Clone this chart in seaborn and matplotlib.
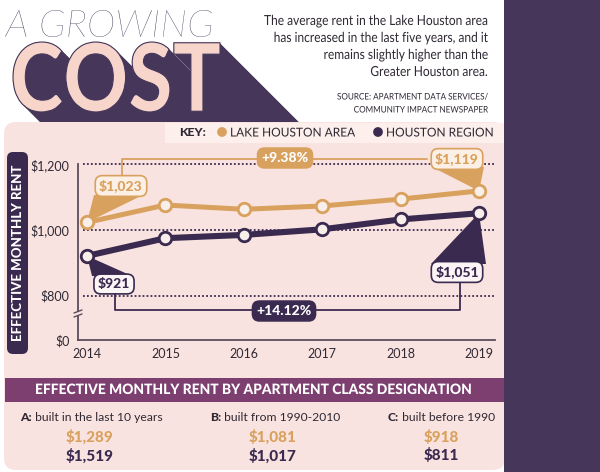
import numpy as np
import pandas as pd
import seaborn as sns
import matplotlib.pyplot as plt
import matplotlib.patheffects as pe
from matplotlib.patches import Rectangle, FancyBboxPatch, Polygon
from matplotlib.transforms import Affine2D, Bbox
from matplotlib.colors import to_rgba
from matplotlib.textpath import TextPath
from matplotlib.font_manager import FontProperties

# chart data
years = [2014, 2015, 2016, 2017, 2018, 2019]
lake_rent = [1023, 1076, 1063, 1073, 1094, 1119]
houston_rent = [921, 975, 985, 1002, 1032, 1051]
series_names = ['LAKE HOUSTON AREA', 'HOUSTON REGION']
rent_ticks = [800, 1000, 1200]

# apartment class table
class_names = ['A', 'B', 'C']
class_desc = ['built in the last 10 years', 'built from 1990-2010', 'built before 1990']
class_lake = [1289, 1081, 918]
class_houston = [1519, 1017, 811]

ORANGE = '#d9a15e'
PURPLE = '#3b2a50'
DEEP = '#45365a'
BAND = '#7c3f6f'
PANEL = '#f9e3e0'
KEYBG = '#fcefec'
PINK = '#f7d5cb'
TEXT = '#2f2833'
W, H = 600, 472
ZERO = 665  # where "$0" sits on the broken axis


class Squash(pe.AbstractPathEffect):
    """squeeze a text horizontally around x0 (display px)"""
    def __init__(self, x0, sx, face=None, edge=None, lw=0):
        super().__init__()
        self.x0, self.sx, self.face, self.edge, self.lw = x0, sx, face, edge, lw

    def draw_path(self, renderer, gc, tpath, affine, rgbFace=None):
        sq = Affine2D().translate(-self.x0, 0).scale(self.sx, 1).translate(self.x0, 0)
        gc0 = renderer.new_gc()
        gc0.copy_properties(gc)
        if self.edge is not None:
            gc0.set_foreground(self.edge)
        gc0.set_linewidth(self.lw)
        face = to_rgba(self.face) if self.face is not None else rgbFace
        renderer.draw_path(gc0, tpath, affine + sq, face)
        gc0.restore()


class Extrude(pe.AbstractPathEffect):
    """diagonal block shadow under the big title"""
    def __init__(self, x0, sx, depth, color, clip_y):
        super().__init__()
        self.x0, self.sx, self.depth, self.color, self.clip_y = x0, sx, depth, color, clip_y

    def draw_path(self, renderer, gc, tpath, affine, rgbFace=None):
        sq = Affine2D().translate(-self.x0, 0).scale(self.sx, 1).translate(self.x0, 0)
        gc0 = renderer.new_gc()
        gc0.copy_properties(gc)
        gc0.set_linewidth(0)
        gc0.set_clip_rectangle(Bbox.from_extents(0, self.clip_y, W, H))
        for t in np.arange(0, self.depth, 1.0):
            renderer.draw_path(gc0, tpath, affine + sq + Affine2D().translate(t, -t),
                               to_rgba(self.color))
        gc0.restore()


def fit_box(s, fp, x0, x1, top, bottom):
    # font size + squeeze so the ink of s fills the given pixel box
    ext = TextPath((0, 0), s, size=100, prop=fp).get_extents()
    em = (bottom - top) / (ext.height / 100)
    sx = (x1 - x0) / (ext.width * em / 100)
    return em * 72 / 100, x0 - ext.x0 * em / 100, bottom + ext.y0 * em / 100, sx


sns.set_theme(style='white')
plt.rcParams['font.family'] = ['Lato', 'DejaVu Sans']

fig = plt.figure(figsize=(W / 100, H / 100), dpi=100)
fig.patch.set_facecolor('white')

# background layer in pixel coords (y down)
bg = fig.add_axes([0, 0, 1, 1], zorder=0)
bg.set_xlim(0, W)
bg.set_ylim(H, 0)
bg.axis('off')

bg.add_patch(FancyBboxPatch((4, 122), 501, 348, boxstyle='round,pad=0,rounding_size=12',
                            fc=PANEL, ec='none'))
bg.add_patch(Rectangle((165, 123), 340, 20, fc=KEYBG, ec='none'))
bg.add_patch(Rectangle((5, 378), 500, 24, fc=BAND, ec='none'))
bg.add_patch(FancyBboxPatch((7, 152), 21, 202, boxstyle='round,pad=0,rounding_size=6',
                            fc=PURPLE, ec='none'))
bg.add_patch(Rectangle((504, 0), 96, H, fc=DEEP, ec='none'))

# title
fp_a = FontProperties(family='Lato', weight='light', style='italic')
fs, tx, ty, sx_a = fit_box('A GROWING', fp_a, 5, 212, 10, 37)
ag = bg.text(tx, ty, 'A GROWING', fontproperties=fp_a, color='#3d3150', ha='left', va='baseline')
ag.set_fontsize(fs)
ag.set_path_effects([Squash(5, sx_a)])

fp_c = FontProperties(family='Lato', weight='black')
fs, tx, ty, sx_c = fit_box('COST', fp_c, 13, 220, 42, 112)
cost = bg.text(tx, ty, 'COST', fontproperties=fp_c, ha='left', va='baseline', color=PINK)
cost.set_fontsize(fs)
cost.set_path_effects([Extrude(13, sx_c, 82, DEEP, H - 122),
                       Squash(13, sx_c, face=PINK, edge=DEEP, lw=0.8)])

desc = ['The average rent in the Lake Houston area',
        'has increased in the last five years, and it',
        'remains slightly higher than the',
        'Greater Houston area.']
desc_txt = [bg.text(488, 21 + 17 * i, s, fontsize=10, color=TEXT, ha='right', va='center')
            for i, s in enumerate(desc)]
src = ['SOURCE: APARTMENT DATA SERVICES/', 'COMMUNITY IMPACT NEWSPAPER']
src_txt = [bg.text(488, 97 + 13 * i, s, fontsize=6.5, color=TEXT, ha='right', va='center')
           for i, s in enumerate(src)]

# main chart
ax = fig.add_axes([78 / W, (H - 340) / H, 417 / W, 190 / H], zorder=2)
ax.patch.set_alpha(0)
df = pd.DataFrame({'year': years * 2,
                   'rent': lake_rent + houston_rent,
                   'area': [series_names[0]] * len(years) + [series_names[1]] * len(years)})
for name, color, lw in [(series_names[0], ORANGE, 3.6), (series_names[1], PURPLE, 4.4)]:
    sns.lineplot(data=df[df['area'] == name], x='year', y='rent', color=color, lw=lw,
                 marker='o', markersize=9, markerfacecolor='#f8eeea',
                 markeredgecolor=color, markeredgewidth=2, ax=ax, legend=False, zorder=3)

ax.set_xlim(2013.885, 2019.204)
ax.set_ylim(ZERO, 1243.5)
ax.set_xticks(years)
ax.set_yticks([ZERO] + rent_ticks, labels=['$0'] + [f'${v:,}' for v in rent_ticks])
ax.tick_params(length=0, labelsize=9, colors=TEXT)
ax.tick_params(axis='x', pad=6)
ax.tick_params(axis='y', pad=6)
ax.set_xlabel('')
ax.set_ylabel('')
for v in rent_ticks:
    ax.axhline(v, xmin=5 / 417, xmax=1, color=PURPLE, lw=1.3, ls=(0, (1, 1.2)), zorder=1)
sns.despine(ax=ax)
for side in ['left', 'bottom']:
    ax.spines[side].set_color('#5c4c5c')
    ax.spines[side].set_linewidth(1.3)
ax.spines['left'].set_bounds(ZERO, 1200)

# foreground layer
fg = fig.add_axes([0, 0, 1, 1], zorder=3)
fg.set_xlim(0, W)
fg.set_ylim(H, 0)
fg.axis('off')


def tip(x, v):
    dx, dy = ax.transData.transform((x, v))
    return dx, H - dy


# axis break marks
fg.plot([76, 80], [313, 313], color=PANEL, lw=2.5)
for y0 in (311, 315):
    fg.plot([74, 82], [y0 + 2, y0 - 1], color='#5c4c5c', lw=1)

# y label
bg.text(18, 253, 'EFFECTIVE MONTHLY RENT', rotation=90, fontsize=9.5, fontweight='black',
        color='white', ha='center', va='center')

# callout triangles (under the lines)
tri = [((years[0], lake_rent[0]), [(94, 195), (143, 195)], ORANGE),
       ((years[-1], lake_rent[-1]), [(432, 167), (484, 167)], ORANGE),
       ((years[0], houston_rent[0]), [(92, 276), (132, 276)], PURPLE),
       ((years[-1], houston_rent[-1]), [(431, 264), (486, 264)], PURPLE)]
for pt, base, color in tri:
    ax.add_patch(Polygon([tip(*pt)] + base, closed=True, fc=color, ec='none',
                         transform=fg.transData, clip_on=False, zorder=2))

# brackets
fg.plot([122, 122, 427], [177, 159, 159], color=ORANGE, lw=1.3)
fg.plot([115, 115, 460, 460], [292, 310, 310, 281], color=PURPLE, lw=1.3)

lake_pct = (lake_rent[-1] - lake_rent[0]) / lake_rent[0] * 100
hou_pct = (houston_rent[-1] - houston_rent[0]) / houston_rent[0] * 100


def label(x, y, s, fc, ec, tc):
    fg.text(x, y, s, ha='center', va='center', fontsize=10, fontweight='black', color=tc,
            bbox=dict(boxstyle='round,pad=0.28,rounding_size=0.5', fc=fc, ec=ec, lw=1.2))


label(121, 186, f'${lake_rent[0]:,}', '#fcefe6', ORANGE, ORANGE)
label(457, 159, f'${lake_rent[-1]:,}', '#fcefe6', ORANGE, ORANGE)
label(285, 158, f'+{lake_pct:.2f}%', ORANGE, ORANGE, 'white')
label(114, 284, f'${houston_rent[0]:,}', '#fbf5f5', PURPLE, PURPLE)
label(457, 272, f'${houston_rent[-1]:,}', '#fbf5f5', PURPLE, PURPLE)
label(284, 311, f'+{hou_pct:.2f}%', PURPLE, PURPLE, 'white')

# key
fg.text(179, 133, 'KEY:', fontsize=8.8, fontweight='black', color=TEXT, ha='left', va='center')
fg.scatter([222, 378], [132, 132], s=36, color=[ORANGE, PURPLE], zorder=4)
key_txt = [fg.text(230, 133, series_names[0], fontsize=8.8, color=TEXT, ha='left', va='center'),
           fg.text(386, 133, series_names[1], fontsize=8.8, color=TEXT, ha='left', va='center')]

# bottom table
band_txt = fg.text(35, 390, 'EFFECTIVE MONTHLY RENT BY APARTMENT CLASS DESIGNATION',
                   fontsize=10.3, fontweight='black', color='white', ha='left', va='center')
col_left = [20, 210, 388]
col_mid = [90, 273, 441]
for i, name in enumerate(class_names):
    t = fg.text(col_left[i], 421, f'{name}:', fontsize=8.7, fontweight='black', color=TEXT,
                ha='left', va='baseline')
    fg.annotate(' ' + class_desc[i], xy=(1, 0), xycoords=t, fontsize=8.7, color=TEXT,
                ha='left', va='bottom')
    fg.text(col_mid[i], 437, f'${class_lake[i]:,}', fontsize=11, fontweight='black',
            color=ORANGE, ha='center', va='center')
    fg.text(col_mid[i], 456, f'${class_houston[i]:,}', fontsize=11, fontweight='black',
            color=PURPLE, ha='center', va='center')

# squeeze the condensed-looking texts to their widths
fig.canvas.draw()
r = fig.canvas.get_renderer()
sx = min(1.0, 224 / desc_txt[0].get_window_extent(r).width)
for t in desc_txt:
    t.set_path_effects([Squash(488, sx)])
sx2 = min(1.0, 151 / src_txt[0].get_window_extent(r).width)
for t in src_txt:
    t.set_path_effects([Squash(488, sx2)])
sx3 = min(1.0, 125 / key_txt[0].get_window_extent(r).width)
for t, x0 in zip(key_txt, [230, 386]):
    t.set_path_effects([Squash(x0, sx3)])
sx4 = min(1.0, 438 / band_txt.get_window_extent(r).width)
band_txt.set_path_effects([Squash(35, sx4)])

fig.savefig('out.png', dpi=100)
